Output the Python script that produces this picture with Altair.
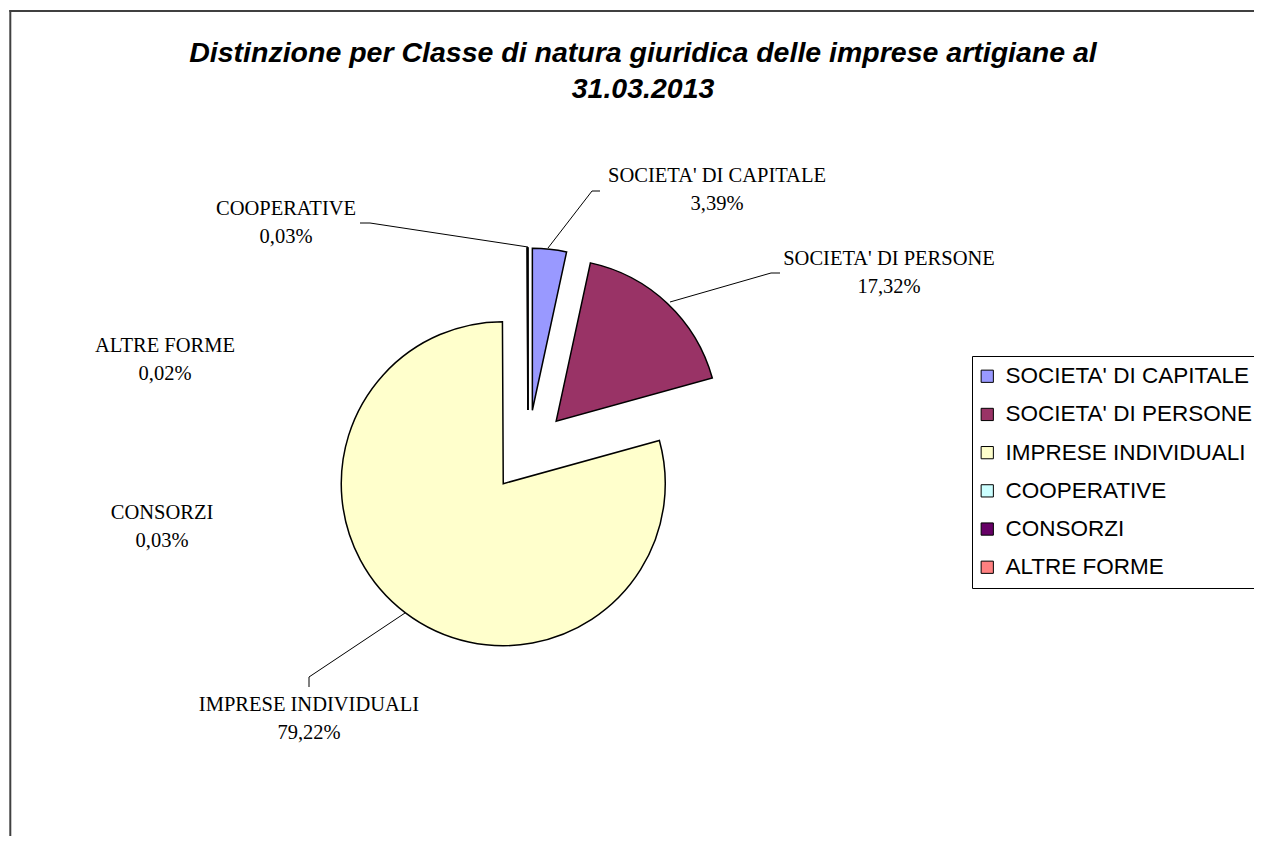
import altair as alt
import numpy as np
import pandas as pd

# ---------------- data ----------------
categories = ["SOCIETA' DI CAPITALE", "SOCIETA' DI PERSONE", "IMPRESE INDIVIDUALI",
              "COOPERATIVE", "CONSORZI", "ALTRE FORME"]
shares = [3.39, 17.32, 79.22, 0.03, 0.03, 0.02]
colors = ["#9999FF", "#993366", "#FFFFCC", "#CCFFFF", "#660066", "#FF8080"]
title_lines = ["Distinzione per Classe di natura giuridica delle imprese artigiane al",
               "31.03.2013"]

# ---------------- layout (pixels) ----------------
W, H = 1246, 828
CX, CY = 520, 443          # pie centre
R = 162                    # pie radius
EXPLODE = 41               # explosion distance
# label anchors (centre x, baseline of first line)
label_x = [709, 881, 301, 278, 154, 157]
label_y = [174, 257, 703, 207, 511, 344]
LINE_GAP = 28
# leader lines: category -> polyline points
leaders = {
    "SOCIETA' DI CAPITALE": [(592, 183), (584, 183), (540, 240)],
    "SOCIETA' DI PERSONE": [(772, 265), (763, 265), (662, 294)],
    "COOPERATIVE": [(352, 215), (362, 215), (520, 239)],
    "IMPRESE INDIVIDUALI": [(301, 679), (301, 669), (397, 605)],
}
title_x = 635
title_y = [54, 90]

# ---------------- derived tables ----------------
vals = np.array(shares)
total = vals.sum()
ends = np.cumsum(vals) / total * 2 * np.pi
starts = ends - vals / total * 2 * np.pi
mids = (starts + ends) / 2
pie = pd.DataFrame({
    "cat": categories,
    "t0": starts,
    "t1": ends,
    "cx": CX + EXPLODE * np.sin(mids),
    "cy": CY - EXPLODE * np.cos(mids),
    "ord": list(range(len(categories))),
})

labels = pd.DataFrame({
    "cat": categories,
    "pct": [f"{v:.2f}".replace(".", ",") + "%" for v in shares],
    "lx": label_x,
    "ly": label_y,
})
labels["ly2"] = labels["ly"] + LINE_GAP

rows = []
for cat, pts in leaders.items():
    for i, (px, py) in enumerate(pts):
        rows.append({"cat": cat, "i": i, "px": px, "py": py})
lead = pd.DataFrame(rows)

titles = pd.DataFrame({"t": title_lines, "ty": title_y})

# ---------------- chart ----------------
frame_top = alt.Chart(pd.DataFrame({"a": [0]})).mark_rule(
    color="#404040", strokeWidth=2
).encode(x=alt.value(1.3), x2=alt.value(W + 10), y=alt.value(3))
frame_left = alt.Chart(pd.DataFrame({"a": [0]})).mark_rule(
    color="#404040", strokeWidth=2
).encode(x=alt.value(2.3), y=alt.value(2), y2=alt.value(H + 10))

arcs = alt.Chart(pie).mark_arc(outerRadius=R, stroke="black", strokeWidth=1.5).encode(
    theta=alt.Theta("t0:Q", scale=None),
    theta2="t1:Q",
    x=alt.X("cx:Q", scale=None, axis=None),
    y=alt.Y("cy:Q", scale=None, axis=None),
    color=alt.Color(
        "cat:N",
        scale=alt.Scale(domain=categories, range=colors),
        legend=alt.Legend(
            title=None, orient="none", legendX=964, legendY=348,
            direction="vertical", symbolType="square", symbolSize=150,
            symbolStrokeColor="black", symbolStrokeWidth=1, symbolOpacity=1,
            symbolOffset=-5,
            labelFont="Liberation Sans", labelFontSize=22.5, labelColor="black",
            labelLimit=600, rowPadding=15.2, padding=9, labelOffset=7,
            strokeColor="black", fillColor="white",
        ),
    ),
    order=alt.Order("ord:Q"),
)

lines = alt.Chart(lead).mark_line(color="black", strokeWidth=1).encode(
    x=alt.X("px:Q", scale=None, axis=None),
    y=alt.Y("py:Q", scale=None, axis=None),
    detail="cat:N",
    order="i:Q",
)

names = alt.Chart(labels).mark_text(
    font="Liberation Serif", fontSize=20.5, color="black", align="center", baseline="alphabetic"
).encode(
    x=alt.X("lx:Q", scale=None, axis=None),
    y=alt.Y("ly:Q", scale=None, axis=None),
    text="cat:N",
)
pcts = alt.Chart(labels).mark_text(
    font="Liberation Serif", fontSize=20.5, color="black", align="center", baseline="alphabetic"
).encode(
    x=alt.X("lx:Q", scale=None, axis=None),
    y=alt.Y("ly2:Q", scale=None, axis=None),
    text="pct:N",
)

title = alt.Chart(titles).mark_text(
    font="Liberation Sans", fontSize=28.5, fontWeight="bold", fontStyle="italic",
    color="black", align="center", baseline="alphabetic"
).encode(
    x=alt.value(title_x),
    y=alt.Y("ty:Q", scale=None, axis=None),
    text="t:N",
)

chart = alt.layer(frame_top, frame_left, arcs, lines, names, pcts, title).properties(
    width=W, height=H, autosize=alt.AutoSizeParams(type="none"), padding=0
).configure_view(stroke=None)

chart.save("out.html", embed_options={"renderer": "svg", "actions": False})
